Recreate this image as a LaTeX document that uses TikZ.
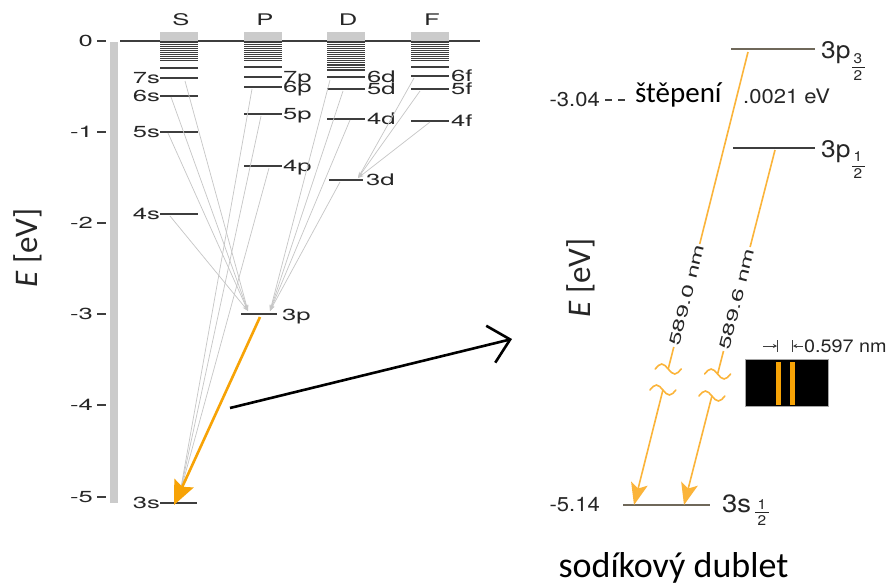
\documentclass[tikz,border=0pt]{standalone}
\usepackage{fontspec}
\setmainfont{TeX Gyre Heros}
\newfontfamily\lw[FakeStretch=1.6]{TeX Gyre Heros}
\newfontfamily\rw[FakeStretch=1.1]{TeX Gyre Heros}
\newfontfamily\calfont{Carlito}
\usetikzlibrary{arrows.meta}
\definecolor{lev}{HTML}{3E3E3E}
\definecolor{trans}{HTML}{C6C6C6}
\definecolor{barg}{HTML}{CBCBCB}
\definecolor{orng}{HTML}{F7A306}
\definecolor{orl}{HTML}{FBB43A}
\definecolor{brn}{HTML}{6F685A}
\definecolor{txt}{HTML}{262626}
\begin{document}
\begin{tikzpicture}[x=1pt,y=-1pt,
  level/.style={draw=lev, line width=1.3pt},
  lbl/.style={font=\lw\fontsize{16pt}{18pt}\selectfont, inner sep=0pt, text=txt},
  lblR/.style={lbl, anchor=base west, yshift=-5.8pt},
  lblL/.style={lbl, anchor=base east, yshift=-5.8pt},
  rlbl/.style={font=\rw\fontsize{20pt}{22pt}\selectfont, inner sep=0pt, text=txt},
  frac/.style={font=\rw\fontsize{14pt}{15pt}\selectfont, inner sep=0pt, text=txt},
  trans/.style={draw=trans, line width=0.7pt, -{Stealth[length=6pt,width=4pt]}},
  photon/.style={draw=orl, line width=1.6pt},
  wave/.style={draw=orl, line width=1.6pt, line cap=round},
]
\useasboundingbox (0,0) rectangle (892,587);
\fill[white] (0,0) rectangle (892,587);

% ---------------- left diagram ----------------
\fill[barg] (110,42) rectangle (118,503);
\foreach \v/\y [count=\i] in {0/41,-1/132,-2/223,-3/314,-4/405,-5/497}{
  \node[lblL] (tick\i) at (93,\y) {\v};
  \draw[level] (97,\y) -- (106,\y);
}
\draw[level] (120,41) -- (480,41);

% column headers, caps and dense bands
\foreach \c/\t [count=\i] in {160/S,244/P,327/D,411/F}{
  \fill[barg] (\c,32) rectangle ++(38,9);
  \node[lbl] (head\i) at (\c+21,20) {\t};
  \foreach \y in {42.5,44.5,...,60.5} \draw[draw=lev,line width=1.55pt] (\c,\y) -- ++(38,0);
}
\foreach \y in {62.5,65,67.5,70} \draw[draw=lev,line width=1.3pt] (327,\y) -- ++(38,0);
\draw[level] (160,68) -- ++(38,0);
\draw[level] (244,67) -- ++(38,0);
\draw[level] (411,67) -- ++(38,0);

% S levels
\foreach \n/\y in {7s/78,6s/96,5s/132,4s/214}{
  \draw[level] (160,\y) -- ++(38,0);
  \node[lblL] (lab\n) at (160,\y) {\n};
}
\draw[level] (160,503) -- (197,503);
\node[lblL] (lab3s) at (160,503) {3s};
% P levels
\foreach \n/\y in {7p/77,6p/87,5p/114,4p/166}{
  \draw[level] (244,\y) -- ++(38,0);
  \node[lblR] (lab\n) at (283,\y) {\n};
}
\draw[level] (241,314) -- (277,314);
\node[lblR] (lab3p) at (282,315) {3p};
% D levels
\foreach \n/\y in {6d/77,5d/89,4d/119}{
  \draw[level] (327,\y) -- ++(38,0);
  \node[lblR] (lab\n) at (367,\y) {\n};
}
\draw[level] (329,180) -- (363,180);
\node[lblR] (lab3d) at (366,180) {3d};
% F levels
\foreach \n/\y in {6f/76,5f/89,4f/121}{
  \draw[level] (411,\y) -- ++(38,0);
  \node[lblR] (lab\n) at (451,\y) {\n};
}

% transition end points
\coordinate (pL) at (248,311);
\coordinate (pR) at (270,311);
\coordinate (dT) at (358,178);
\coordinate (sT) at (180,493);
\coordinate (s7) at (185,81);
\coordinate (s6) at (171,97);
\coordinate (s5) at (168,133);
\coordinate (s4) at (170,216);
\coordinate (d6) at (330,80);
\coordinate (d5) at (343,91);
\coordinate (d4) at (350,120);
\coordinate (d3) at (340,182);
\coordinate (f6) at (414,78);
\coordinate (f5) at (420,91);
\coordinate (f4) at (430,122);
\coordinate (p6) at (252,89);
\coordinate (p5) at (261,116);
\coordinate (p4) at (269,168);
\foreach \a in {s7,s6,s5,s4} \draw[trans] (\a) -- (pL);
\foreach \a in {d6,d5,d4,d3} \draw[trans] (\a) -- (pR);
\foreach \a in {f6,f5,f4} \draw[trans] (\a) -- (dT);
\foreach \a in {p6,p5,p4} \draw[trans] (\a) -- (sT);

% orange D line
\coordinate (o3p) at (260,317);
\coordinate (o3s) at (174,505);
\draw[draw=orng, line width=2.6pt, -{Stealth[length=24pt,width=21pt,inset=4pt]}] (o3p) -- (o3s);

\node[font=\calfont\fontsize{33pt}{35pt}\selectfont, rotate=90, inner sep=0pt, text=txt] (eL) at (28,248) {\textit{E} [eV]};

% black arrow
\coordinate (ba) at (230,408);
\coordinate (bb) at (512,339);
\draw[black, line width=2.6pt, -{Straight Barb[length=20pt,width=38pt]}] (ba) -- (bb);

% ---------------- right diagram ----------------
\draw[draw=brn, line width=2pt] (731,49) -- (815,49);
\draw[draw=lev, line width=1.6pt] (733,148) -- (815,148);
\draw[draw=brn, line width=2.5pt] (623,505) -- (710,505);

\node[font=\rw\fontsize{24pt}{26pt}\selectfont, anchor=base west, inner sep=0pt, text=txt] (p32) at (821,58) {3p};
\node[frac] (p32n) at (858,59) {3};
\draw[draw=txt, line width=1pt] (852,67) -- (865,67);
\node[frac] (p32d) at (858,76) {2};

\node[font=\rw\fontsize{24pt}{26pt}\selectfont, anchor=base west, inner sep=0pt, text=txt] (p12) at (821,157) {3p};
\node[frac] (p12n) at (858,157) {1};
\draw[draw=txt, line width=1pt] (852,166) -- (865,166);
\node[frac] (p12d) at (858,174) {2};

\node[font=\rw\fontsize{25pt}{27pt}\selectfont, anchor=base west, inner sep=0pt, text=txt] (s12) at (722,512) {3s};
\node[frac] (s12n) at (762,505) {1};
\draw[draw=txt, line width=1pt] (755,512) -- (769,512);
\node[frac] (s12d) at (762,521) {2};

\node[rlbl, anchor=east] (e304) at (600,100) {-3.04};
\draw[draw=lev, line width=1.3pt, dash pattern=on 7pt off 6pt] (605,100) -- (629,100);
\node[font=\calfont\fontsize{29pt}{31pt}\selectfont, anchor=base west, inner sep=0pt, text=black] (stp) at (635,102) {štěpení};
\node[rlbl, anchor=west] (de) at (743,96) {.0021 eV};
\node[rlbl, anchor=east] (e514) at (600,505) {-5.14};

\node[font=\calfont\fontsize{33pt}{35pt}\selectfont, rotate=90, inner sep=0pt, text=txt] (eR) at (581,278) {\textit{E} [eV]};

% photon A (589.0 nm)
\coordinate (a0) at (748,52);
\coordinate (a1) at (699.7,244);
\coordinate (a2) at (673.8,347);
\coordinate (a3) at (668.2,369);
\coordinate (a4) at (662.9,390);
\coordinate (a5) at (634,505);
\draw[photon] (a0) -- (a1);
\draw[photon] (a2) -- (a3);
\draw[photon, -{Stealth[length=22pt,width=17pt,inset=5pt]}] (a4) -- (a5);
\draw[wave, shift={(a3)}] (-13,0) sin (-6.5,-5) cos (0,0) sin (6.5,5) cos (13,0);
\draw[wave, shift={(a4)}] (-13,0) sin (-6.5,-5) cos (0,0) sin (6.5,5) cos (13,0);
\node[font=\lw\fontsize{15.5pt}{16pt}\selectfont, rotate=75.9, inner sep=0pt, text=txt] (la) at (686.8,295) {589.0 nm};

% photon B (589.6 nm)
\coordinate (b0) at (775,150);
\coordinate (b1) at (750.1,247);
\coordinate (b2) at (723.5,351);
\coordinate (b3) at (717.6,374);
\coordinate (b4) at (711.9,396);
\coordinate (b5) at (684,505);
\draw[photon] (b0) -- (b1);
\draw[photon] (b2) -- (b3);
\draw[photon, -{Stealth[length=22pt,width=17pt,inset=5pt]}] (b4) -- (b5);
\draw[wave, shift={(b3)}] (-13,0) sin (-6.5,-5) cos (0,0) sin (6.5,5) cos (13,0);
\draw[wave, shift={(b4)}] (-13,0) sin (-6.5,-5) cos (0,0) sin (6.5,5) cos (13,0);
\node[font=\lw\fontsize{15.5pt}{16pt}\selectfont, rotate=75.6, inner sep=0pt, text=txt] (lb) at (736.8,299) {589.6 nm};

% spectrum
\draw[draw=gray!70, line width=0.6pt, fill=black] (745,359) rectangle (828,406);
\fill[orng] (776,362) rectangle (781,405);
\fill[orng] (790,362) rectangle (795,405);
\coordinate (m1) at (763,346);
\coordinate (m2) at (777,346);
\coordinate (m3) at (803,346);
\coordinate (m4) at (793,346);
\draw[draw=lev, line width=1pt, -{Stealth[length=4pt,width=4pt]}] (m1) -- (m2);
\draw[draw=lev, line width=1pt] (777.5,340) -- (777.5,352);
\draw[draw=lev, line width=1pt, -{Stealth[length=4pt,width=4pt]}] (m3) -- (m4);
\draw[draw=lev, line width=1pt] (792.5,340) -- (792.5,352);
\node[font=\rw\fontsize{18pt}{20pt}\selectfont, anchor=base west, inner sep=0pt, text=txt, yshift=-6pt] (dnm) at (804,346) {0.597 nm};

\node[font=\calfont\fontsize{36pt}{38pt}\selectfont, anchor=base, inner sep=0pt, text=black] (sod) at (673.5,577) {sodíkový dublet};
\end{tikzpicture}
\end{document}
